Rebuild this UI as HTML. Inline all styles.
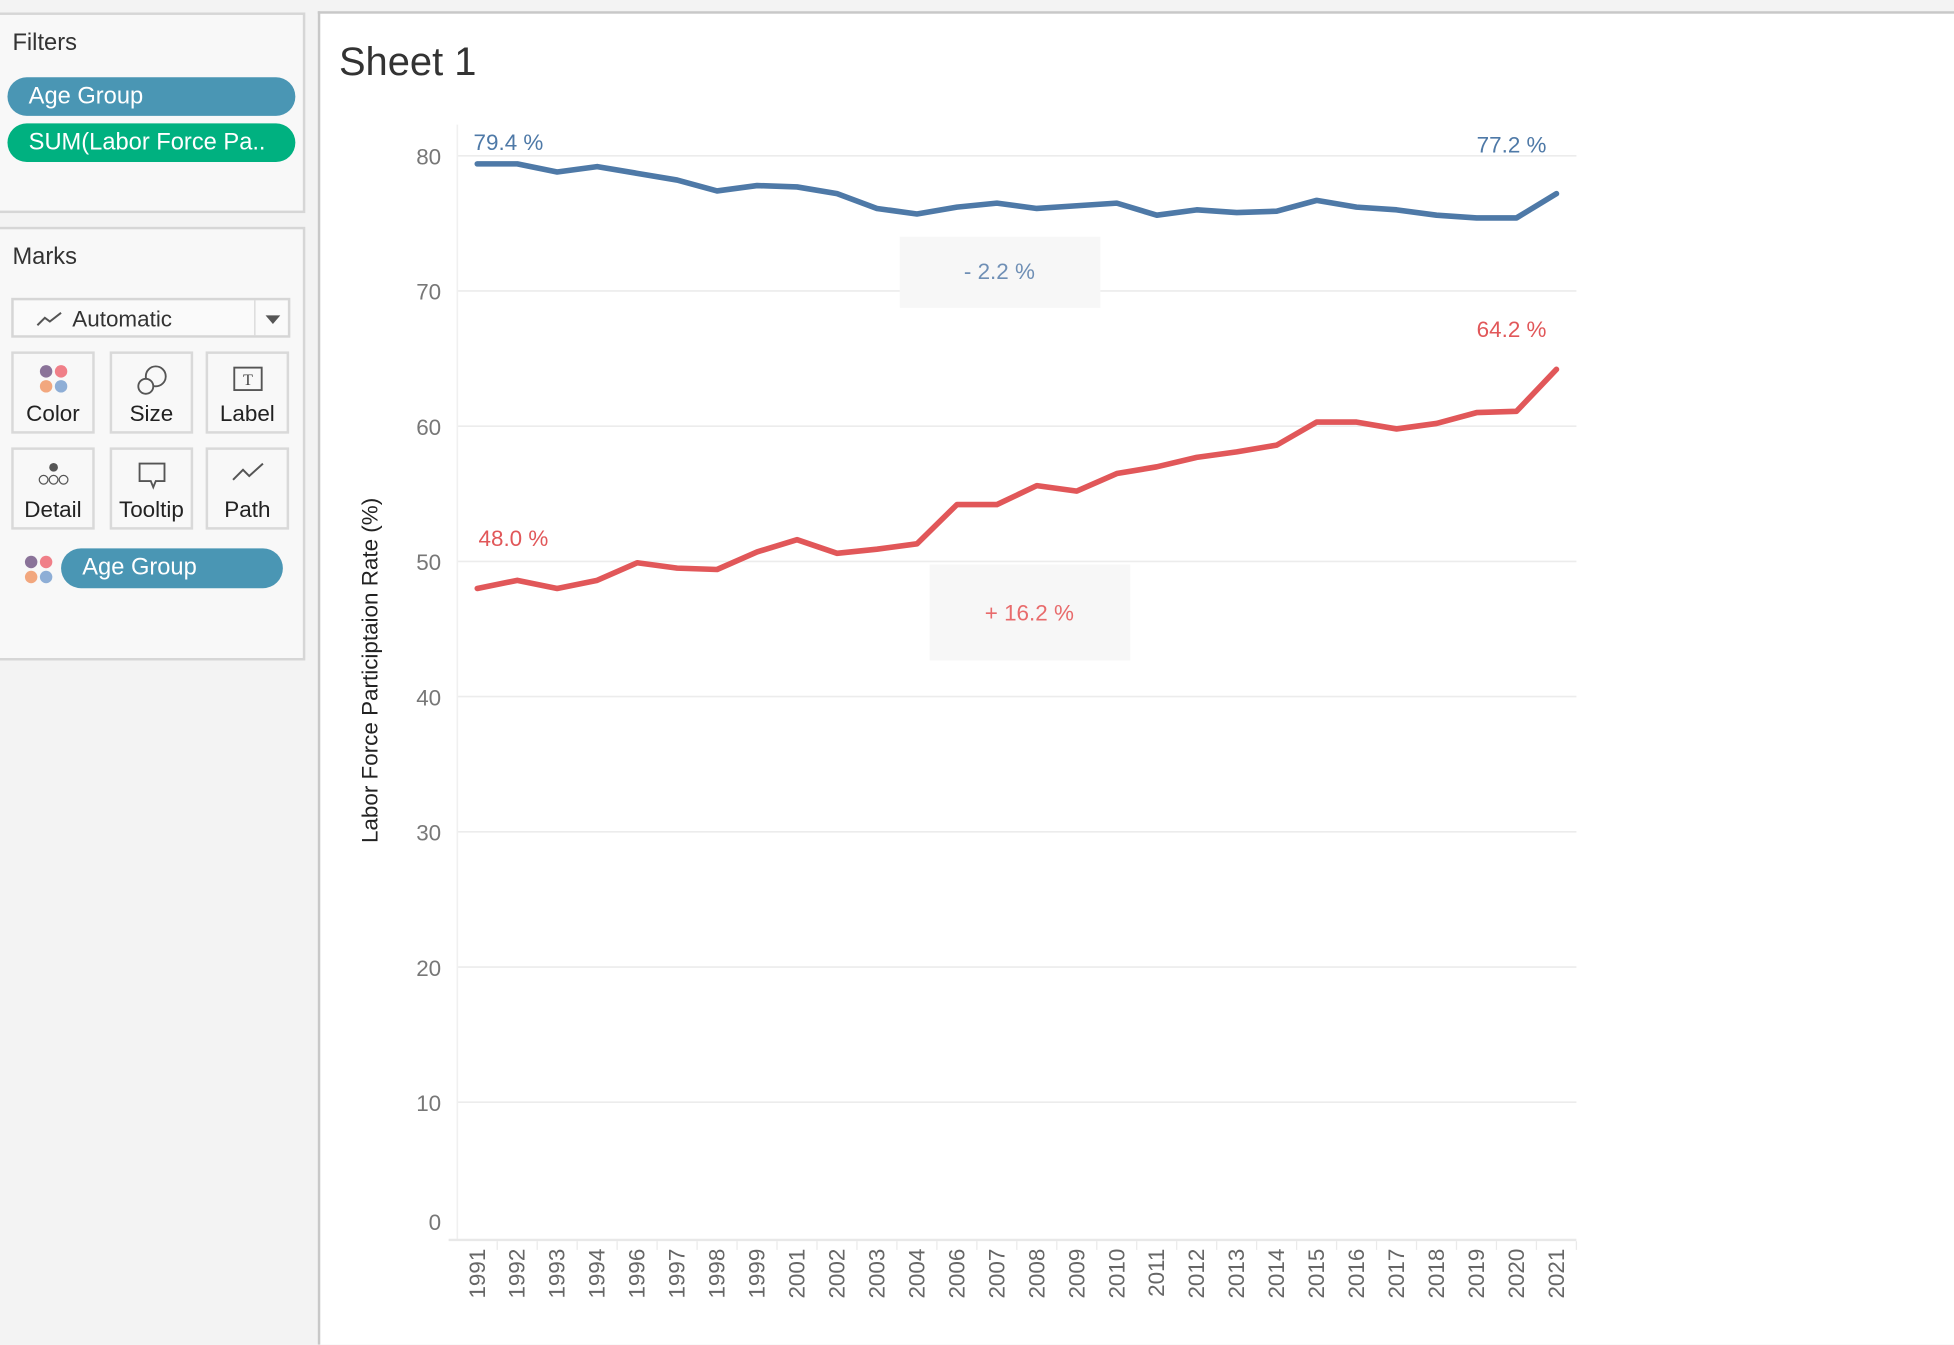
<!DOCTYPE html>
<html><head><meta charset="utf-8">
<style>
html,body{margin:0;padding:0;width:1954px;height:1332px;overflow:hidden;background:#f3f3f3;}
#wrap{position:absolute;left:0;top:0;width:1568px;height:1069px;transform:scale(1.24617);transform-origin:0 0;font-family:"Liberation Sans",sans-serif;}
.panel{position:absolute;background:#f8f8f8;border:2px solid #d6d6d6;box-sizing:border-box;}
.ptitle{position:absolute;left:8px;font-size:19px;color:#333;}
.pill{position:absolute;height:31px;border-radius:16px;color:#fff;font-size:19px;line-height:31px;box-sizing:border-box;padding-left:17px;white-space:nowrap;overflow:hidden;}
.btn{position:absolute;width:67px;height:66px;border:2px solid #d9d9d9;box-sizing:border-box;background:#f8f8f8;text-align:center;font-size:18px;color:#222;}
.btn span{position:absolute;left:0;right:0;bottom:3px;}
.btn svg{position:absolute;left:50%;top:8px;transform:translateX(-50%);}
</style></head><body>
<div id="wrap">
  <div class="panel" style="left:-2px;top:10px;width:247px;height:161px;">
    <div class="ptitle" style="top:12px;left:10px;">Filters</div>
  </div>
  <div class="pill" style="left:6px;top:62px;width:231px;background:#4a96b4;">Age Group</div>
  <div class="pill" style="left:6px;top:99px;width:231px;background:#00b180;">SUM(Labor Force Pa..</div>

  <div class="panel" style="left:-2px;top:182px;width:247px;height:348px;">
    <div class="ptitle" style="top:12px;left:10px;">Marks</div>
  </div>
  <div style="position:absolute;left:9px;top:239px;width:224px;height:32px;border:2px solid #d6d6d6;box-sizing:border-box;background:#fafafa;font-size:18px;color:#333;">
    <svg width="24" height="14" style="position:absolute;left:17px;top:8px"><polyline points="2,12 8,6 12,9 21,2" fill="none" stroke="#555" stroke-width="1.6"/></svg>
    <span style="position:absolute;left:47px;top:5px;">Automatic</span>
    <div style="position:absolute;left:193px;top:0;width:1px;height:28px;background:#d6d6d6"></div>
    <svg width="12" height="8" style="position:absolute;left:202px;top:12px"><polygon points="0,0 12,0 6,7" fill="#555"/></svg>
  </div>
  <div class="btn" style="left:9px;top:282px;">
    <svg width="24" height="24"><circle cx="6" cy="6" r="5" fill="#8a7399"/><circle cx="18" cy="6" r="5" fill="#f07f88"/><circle cx="6" cy="18" r="5" fill="#f2a77e"/><circle cx="18" cy="18" r="5" fill="#8eaed6"/></svg><span>Color</span></div>
  <div class="btn" style="left:88px;top:282px;">
    <svg width="26" height="26"><circle cx="16" cy="10" r="8" fill="none" stroke="#555" stroke-width="1.5"/><circle cx="8" cy="18" r="6" fill="#f8f8f8" stroke="#555" stroke-width="1.5"/></svg><span>Size</span></div>
  <div class="btn" style="left:165px;top:282px;">
    <svg width="26" height="24"><rect x="2" y="3" width="22" height="18" fill="none" stroke="#555" stroke-width="1.5"/><text x="13" y="17" font-size="13" text-anchor="middle" font-family="Liberation Serif,serif" fill="#444">T</text></svg><span>Label</span></div>
  <div class="btn" style="left:9px;top:359px;">
    <svg width="28" height="24"><circle cx="14" cy="6" r="3.5" fill="#555"/><circle cx="6" cy="16" r="3.5" fill="none" stroke="#555"/><circle cx="14" cy="16" r="3.5" fill="none" stroke="#555"/><circle cx="22" cy="16" r="3.5" fill="none" stroke="#555"/></svg><span>Detail</span></div>
  <div class="btn" style="left:88px;top:359px;">
    <svg width="26" height="26"><path d="M3 3 H23 V17 H16 L14 22 L12 17 H3 Z" fill="none" stroke="#555" stroke-width="1.5"/></svg><span>Tooltip</span></div>
  <div class="btn" style="left:165px;top:359px;">
    <svg width="28" height="20"><polyline points="2,16 10,8 15,13 26,3" fill="none" stroke="#555" stroke-width="1.6"/></svg><span>Path</span></div>
  <svg width="24" height="24" style="position:absolute;left:19px;top:445px"><circle cx="6" cy="6" r="5" fill="#8a7399"/><circle cx="18" cy="6" r="5" fill="#f07f88"/><circle cx="6" cy="18" r="5" fill="#f2a77e"/><circle cx="18" cy="18" r="5" fill="#8eaed6"/></svg>
  <div class="pill" style="left:49px;top:440px;width:178px;height:32px;line-height:32px;background:#4a96b4;">Age Group</div>

  <div style="position:absolute;left:255px;top:9px;width:1320px;height:1070px;background:#fff;border-left:2px solid #c8c8c8;border-top:2px solid #c8c8c8;box-sizing:border-box;"></div>
  <div style="position:absolute;left:272px;top:31px;font-size:32px;color:#333;">Sheet 1</div>

  <svg id="chart" width="1568" height="1069" style="position:absolute;left:0;top:0;font-family:'Liberation Sans',sans-serif;"></svg>
</div>
<script>
const years = ["1991","1992","1993","1994","1996","1997","1998","1999","2001","2002","2003","2004","2006","2007","2008","2009","2010","2011","2012","2013","2014","2015","2016","2017","2018","2019","2020","2021"];
const seriesBlue = [79.4,79.4,78.8,79.2,78.7,78.2,77.4,77.8,77.7,77.2,76.1,75.7,76.2,76.5,76.1,76.3,76.5,75.6,76.0,75.8,75.9,76.7,76.2,76.0,75.6,75.4,75.4,77.2];
const seriesRed = [48.0,48.6,48.0,48.6,49.9,49.5,49.4,50.7,51.6,50.6,50.9,51.3,54.2,54.2,55.6,55.2,56.5,57.0,57.7,58.1,58.6,60.3,60.3,59.8,60.2,61.0,61.1,64.2];
const yTicks = [0,10,20,30,40,50,60,70,80];

const NS="http://www.w3.org/2000/svg";
const svg=document.getElementById('chart');
const X0=383, X1=1249, Y0=993, PY=10.85;
const xPos=i=>X0+(X1-X0)*i/(years.length-1);
const yPos=v=>Y0-v*PY;
function mk(tag,attrs,parent){const e=document.createElementNS(NS,tag);for(const k in attrs)e.setAttribute(k,attrs[k]);(parent||svg).appendChild(e);return e;}

yTicks.forEach(t=>{
  if(t>0){const g=mk('line',{x1:367,x2:1265,y1:yPos(t),y2:yPos(t),stroke:'#ececec','stroke-width':1.3});
  
  }
  const lb=mk('text',{x:354,y:(t===0?yPos(t)-6:yPos(t)+7),'text-anchor':'end','font-size':18,fill:'#777'});
  lb.textContent=t;
  
  
});
const ax=mk('line',{x1:367,x2:367,y1:100,y2:995,stroke:'#f0f0f0','stroke-width':1.3});


const bx=mk('line',{x1:360,x2:1265,y1:995,y2:995,stroke:'#e8e8e8','stroke-width':2});


years.forEach((y,i)=>{
  const t=mk('line',{x1:xPos(i)+16,x2:xPos(i)+16,y1:996,y2:1003,stroke:'#eaeaea'});
  
  
  const lb=mk('text',{x:0,y:0,'font-size':18,fill:'#666','text-anchor':'end',transform:`translate(${xPos(i)+6},1002) rotate(-90)`});
  lb.textContent=y;
  
  
});
const yt=mk('text',{x:0,y:0,'font-size':18,fill:'#222','text-anchor':'middle',transform:'translate(303,538) rotate(-90)'});
yt.textContent='Labor Force Participtaion Rate (%)';



const b1=mk('rect',{x:722,y:190,width:161,height:57,fill:'#f7f7f7'});


const t1=mk('text',{x:802,y:224,'text-anchor':'middle','font-size':18,fill:'#6f8fb5'});t1.textContent='- 2.2 %';


const b2=mk('rect',{x:746,y:453,width:161,height:77,fill:'#f7f7f7'});


const t2=mk('text',{x:826,y:498,'text-anchor':'middle','font-size':18,fill:'#e86b6c'});t2.textContent='+ 16.2 %';



function drawLine(vals,color,name){
  const pts=vals.map((v,i)=>xPos(i).toFixed(1)+','+yPos(v).toFixed(1)).join(' ');
  const p=mk('polyline',{points:pts,fill:'none',stroke:color,'stroke-width':4.5,'stroke-linejoin':'round','stroke-linecap':'round'});
  
  
}
drawLine(seriesBlue,'#4e79a7','line-blue-series');
drawLine(seriesRed,'#e15759','line-red-series');

function lab(x,y,txt,color,anchor,name){
  const t=mk('text',{x:x,y:y,'font-size':18,fill:color,'text-anchor':anchor});
  t.textContent=txt;
  
  
}
const nB=seriesBlue.length-1, nR=seriesRed.length-1;
lab(xPos(0)-3,yPos(seriesBlue[0])-11,seriesBlue[0].toFixed(1)+' %','#4e79a7','start','label-blue-start');
lab(xPos(nB)-8,yPos(seriesBlue[0])-9,seriesBlue[nB].toFixed(1)+' %','#4e79a7','end','label-blue-end');
lab(xPos(0)+1,yPos(seriesRed[0])-34,seriesRed[0].toFixed(1)+' %','#e15759','start','label-red-start');
lab(xPos(nR)-8,yPos(seriesRed[nR])-26,seriesRed[nR].toFixed(1)+' %','#e15759','end','label-red-end');
</script>
</body></html>
